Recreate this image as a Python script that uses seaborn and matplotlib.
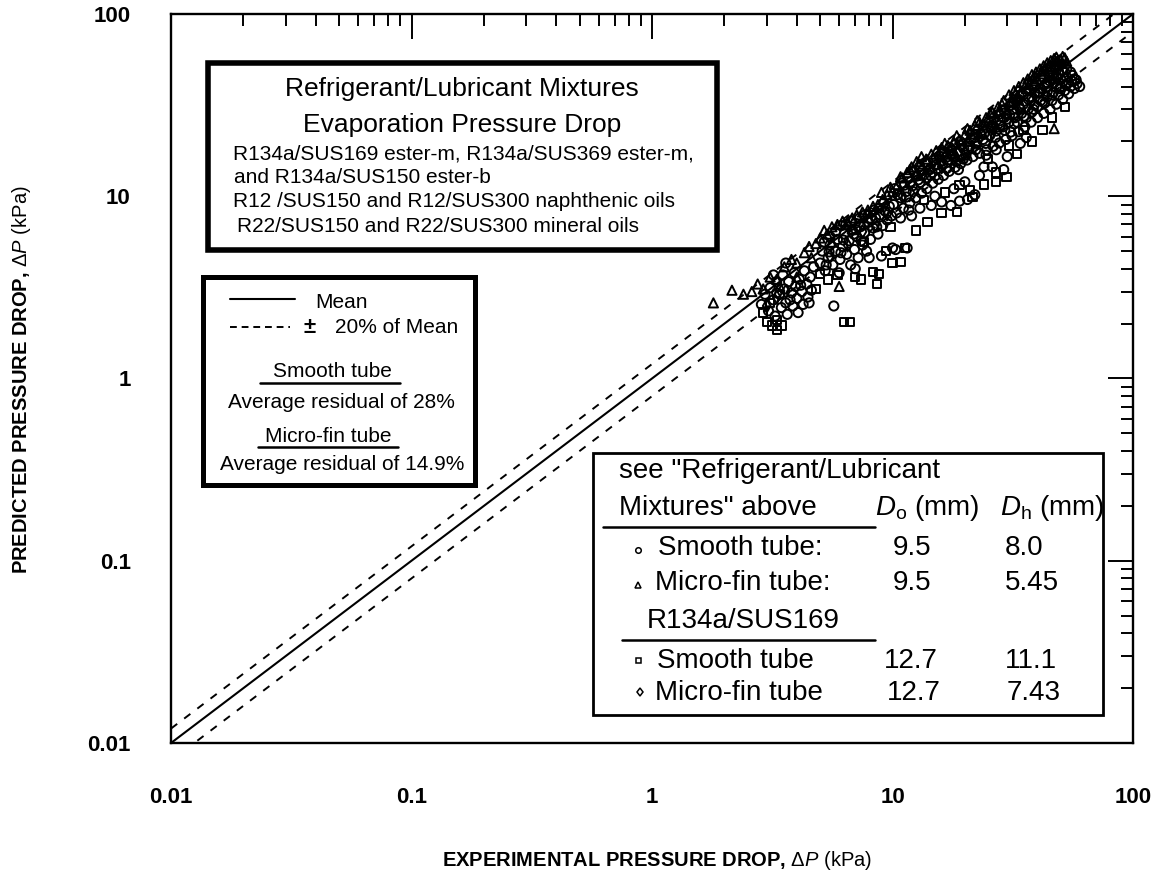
import numpy as np
import pandas as pd
import matplotlib
matplotlib.use("Agg")
import matplotlib.pyplot as plt
from matplotlib.patches import Rectangle
from matplotlib.lines import Line2D
from matplotlib.ticker import LogLocator, NullFormatter
import seaborn as sns

# ---------------------------------------------------------------------------
# Experimental vs. predicted evaporation pressure drop (kPa)
# ---------------------------------------------------------------------------
# Smooth tube, Do = 9.5 mm (circles)
smooth_95 = [
    (2.85, 2.55), (2.95, 2.9), (3.05, 2.35), (3.1, 3.15), (3.2, 2.7), (3.25, 2.2),
    (3.3, 3.4), (3.4, 2.9), (3.45, 2.45), (3.5, 3.7), (3.55, 3.1), (3.6, 2.6),
    (3.65, 2.25), (3.7, 3.4), (3.8, 2.95), (3.85, 2.5), (3.9, 3.8), (3.95, 3.2),
    (4.0, 2.75), (4.05, 2.3), (4.1, 3.5), (4.2, 3.0), (4.25, 2.55), (4.3, 3.9),
    (4.4, 3.3), (4.45, 2.8), (4.55, 3.6), (4.6, 3.05), (4.7, 4.1), (3.6, 4.3),
    (5.7, 2.5),
    (5.0, 4.3), (5.1, 5.0), (5.25, 3.9), (5.4, 4.6), (5.5, 5.4), (5.65, 4.2),
    (5.8, 5.0), (5.9, 5.8), (6.05, 4.5), (6.2, 5.3), (6.3, 6.2), (6.45, 4.8),
    (6.6, 5.7), (6.7, 4.2), (6.8, 6.5), (6.95, 5.1), (7.1, 6.0), (7.2, 4.6),
    (7.35, 6.8), (7.5, 5.4), (7.65, 6.3), (7.8, 5.0), (7.95, 7.2), (8.1, 5.8),
    (8.3, 6.7), (8.5, 7.6), (8.7, 6.2), (8.9, 7.9), (9.1, 6.9), (9.3, 8.3),
    (9.5, 7.4), (9.7, 8.8), (9.9, 7.8), (10.1, 9.0), (7.0, 4.0), (6.0, 3.8),
    (8.0, 4.6), (9.0, 4.7), (10.3, 5.1), (11.5, 5.2), (10.0, 5.2),
    (10.4, 8.1), (10.8, 9.8), (11.1, 8.6), (11.4, 10.6), (11.8, 9.2), (12.1, 11.4),
    (12.5, 9.8), (12.8, 12.3), (13.2, 10.4), (13.5, 13.1), (13.9, 11.0), (14.3, 14.0),
    (14.7, 11.8), (15.1, 14.8), (15.5, 12.4), (15.9, 15.6), (16.3, 13.0), (16.8, 16.4),
    (17.2, 13.7), (17.7, 17.0), (18.2, 14.4), (18.7, 17.6), (19.2, 15.1), (19.8, 18.2),
    (20.4, 15.8), (21.0, 18.8), (21.6, 16.5), (11.7, 8.4), (13.0, 8.6), (14.5, 8.9),
    (16.0, 9.3), (17.5, 8.9), (19.0, 9.4), (20.5, 9.6), (22.0, 10.2), (15.0, 10.0),
    (18.0, 11.0), (20.0, 12.0), (23.0, 13.0), (24.0, 14.5), (12.0, 7.8),
    (22.3, 19.5), (23.0, 17.2), (23.8, 20.5), (24.6, 18.0), (25.4, 21.6), (26.2, 18.8),
    (27.0, 22.8), (27.8, 19.6), (28.7, 24.0), (29.6, 20.5), (30.5, 25.5), (31.4, 21.5),
    (32.4, 27.0), (33.4, 22.6), (34.4, 28.5), (35.5, 24.0), (36.6, 30.0), (37.7, 25.5),
    (38.9, 31.8), (40.1, 27.0), (41.3, 33.5), (42.6, 28.5), (43.9, 35.0), (45.2, 30.0),
    (46.6, 37.0), (48.0, 32.0), (49.5, 39.0), (51.0, 34.0), (52.5, 41.0), (54.0, 36.5),
    (55.5, 43.0), (57.0, 39.0), (58.5, 41.5), (60.0, 40.0), (56.0, 46.0), (53.0, 45.0),
    (50.0, 44.0), (47.0, 42.0), (44.0, 40.0), (41.0, 37.0), (38.0, 35.0), (35.0, 32.0),
    (32.0, 30.0), (29.0, 27.0), (26.0, 24.5), (30.0, 16.5), (26.0, 14.5), (34.0, 19.5),
    (36.0, 21.0), (29.0, 14.0),
    (10.2, 11.0), (10.9, 11.8), (11.6, 12.8), (12.3, 13.6), (13.0, 14.6), (13.7, 15.3),
    (14.4, 13.0), (15.2, 16.2), (16.0, 17.0), (16.8, 14.2), (17.6, 18.0), (18.4, 15.5),
    (19.3, 19.0), (20.2, 16.8), (21.2, 20.5), (22.2, 18.0), (23.3, 22.0), (24.4, 19.5),
    (25.6, 24.0), (26.8, 21.0), (28.0, 26.0), (29.3, 23.0), (30.7, 28.0), (32.1, 25.0),
    (33.6, 31.0), (35.2, 27.5), (36.8, 34.0), (38.5, 30.0), (40.3, 37.0), (42.1, 33.0),
    (44.0, 42.0), (46.0, 36.0), (48.0, 45.0), (50.0, 40.0), (52.0, 48.0), (54.0, 42.0),
    (45.0, 46.0), (39.0, 40.0), (33.0, 33.5), (3.3, 2.95), (3.75, 2.7), (4.15, 3.25),
    (4.5, 2.6), (3.2, 3.7), (5.3, 4.2), (6.1, 4.9), (7.4, 5.7), (8.6, 6.8),
    (5.2, 5.6), (5.5, 6.0), (5.8, 6.4), (6.1, 6.9), (6.4, 7.0), (6.7, 7.3),
    (7.0, 7.1), (7.3, 7.6), (7.7, 7.9), (8.1, 8.1), (8.4, 8.4), (8.8, 8.6),
    (6.9, 6.2), (7.6, 7.0), (8.2, 7.4), (9.2, 9.2), (5.45, 4.95), (6.25, 5.75),
    (7.05, 6.55),
    (10.5, 10.2), (11.2, 11.5), (11.9, 12.0), (12.6, 12.9), (13.3, 13.8), (14.0, 15.0),
    (14.8, 15.8), (15.6, 16.6), (16.4, 17.6), (17.3, 18.5), (18.2, 19.2), (19.1, 20.0),
    (10.8, 7.6), (11.4, 9.9), (12.2, 10.6), (13.0, 11.9), (13.8, 12.6), (14.6, 13.5),
    (15.4, 14.2), (16.2, 15.1), (17.0, 15.8), (17.9, 16.6), (18.8, 14.0), (19.7, 16.0),
    (20.7, 18.0),
    (21.5, 22.0), (22.7, 23.2), (23.9, 24.5), (25.1, 25.5), (26.4, 27.0), (27.7, 28.2),
    (29.1, 29.5), (30.5, 31.0), (32.0, 32.5), (33.5, 34.0), (22.0, 21.0), (24.0, 22.0),
    (26.0, 23.5), (28.0, 24.5), (30.0, 26.5), (32.0, 28.5), (34.0, 30.0), (36.0, 27.0),
    (38.0, 29.0), (24.5, 16.8), (27.0, 18.0), (31.0, 22.5), (33.0, 25.5),
    (35.0, 36.0), (37.0, 38.0), (39.0, 37.0), (41.0, 39.0), (43.0, 41.0), (45.0, 43.0),
    (47.0, 44.0), (49.0, 47.0), (51.0, 49.0), (53.0, 50.0), (55.0, 48.0), (57.0, 44.0),
    (40.0, 31.0), (43.0, 32.5), (46.0, 33.5), (49.0, 36.0), (52.0, 38.0), (55.0, 40.0),
    (58.0, 43.5), (44.0, 37.5), (48.0, 39.5),
]

# Micro-fin tube, Do = 9.5 mm (triangles)
microfin_95 = [
    (1.8, 2.6), (2.15, 3.05), (2.6, 3.0), (2.75, 3.3), (2.9, 3.1), (3.1, 3.6),
    (3.3, 3.5), (3.55, 4.1), (3.8, 4.5), (4.0, 4.3), (4.3, 4.9), (4.5, 5.3),
    (4.8, 5.5), (5.0, 5.9), (5.2, 6.5), (5.35, 6.2), (5.6, 6.8), (5.9, 7.0),
    (6.2, 7.3), (6.5, 7.2), (6.8, 7.6), (7.1, 7.9), (7.5, 8.2), (7.9, 8.4),
    (8.3, 8.8), (8.7, 9.0), (9.1, 9.6), (9.5, 10.2), (10.0, 10.6), (10.5, 11.6),
    (11.0, 12.6), (11.5, 13.5), (12.0, 14.5), (12.6, 15.5), (13.2, 16.5), (13.8, 16.0),
    (14.5, 17.0), (15.2, 17.8), (16.0, 18.5), (17.0, 19.0), (18.0, 19.8), (19.0, 20.5),
    (20.0, 21.8), (21.0, 23.0), (22.0, 24.5), (23.0, 25.5), (24.5, 27.0), (26.0, 29.0),
    (27.5, 31.0), (29.0, 33.5), (30.5, 36.0), (32.0, 38.0), (33.5, 40.0), (35.0, 42.0),
    (36.5, 44.0), (38.0, 46.5), (39.5, 48.0), (41.0, 50.0), (42.5, 52.0), (44.0, 54.0),
    (45.5, 55.5), (47.0, 57.0), (48.5, 55.0), (50.0, 56.5), (52.0, 57.5), (43.0, 49.0),
    (46.0, 51.0), (49.0, 52.0), (40.0, 44.0), (37.0, 41.0), (34.0, 37.0), (31.0, 33.0),
    (28.0, 29.5), (25.0, 25.5), (18.5, 16.5), (22.5, 20.0), (27.0, 24.0), (47.0, 23.5),
    (6.0, 3.2), (4.0, 3.6),
    (31.5, 35.0), (33.0, 35.5), (36.0, 39.0), (39.0, 43.0), (41.5, 47.0), (44.5, 50.0),
    (47.5, 53.0), (50.5, 53.5), (53.0, 55.0), (20.5, 20.0), (23.5, 22.5), (12.5, 13.0),
    (14.0, 14.2), (15.5, 15.0), (17.5, 17.0), (8.0, 7.6), (6.8, 6.6), (5.6, 5.6),
    (4.6, 4.6),
    (9.0, 10.5), (9.8, 11.2), (10.8, 12.8), (11.8, 14.0), (13.0, 15.0), (16.5, 19.5),
    (18.5, 21.5), (20.5, 23.5), (22.5, 26.0), (25.5, 28.5), (28.5, 32.0), (32.5, 36.5),
    (36.0, 41.5), (39.0, 45.5), (42.0, 48.5), (45.0, 52.0), (48.0, 58.0), (51.0, 58.5),
    (3.4, 3.2), (2.4, 2.9),
]

# R134a/SUS169 smooth tube, Do = 12.7 mm (squares)
smooth_127 = [
    (2.9, 2.3), (3.0, 2.05), (3.15, 1.95), (3.3, 1.85), (3.45, 1.95), (3.1, 2.6),
    (3.3, 2.1), (4.8, 3.1), (5.0, 3.75), (5.4, 3.5), (5.9, 3.7), (6.3, 2.05),
    (6.65, 2.05), (7.0, 3.6), (7.4, 3.5), (8.3, 3.85), (8.8, 3.75), (8.6, 3.3),
    (10.0, 4.3), (10.8, 4.35), (11.3, 5.2), (9.4, 5.0), (12.5, 6.5), (14.0, 7.2),
    (16.0, 8.1), (18.5, 8.2), (21.5, 9.9), (21.0, 10.8), (24.0, 11.6), (27.0, 13.5),
    (29.8, 12.7), (27.0, 12.0), (33.0, 17.0), (38.0, 20.0), (42.0, 23.0), (46.0, 27.0),
    (52.0, 31.0), (19.0, 11.5), (16.5, 10.5), (13.5, 9.5), (25.0, 16.0), (30.5, 19.0),
    (35.0, 23.0), (9.8, 6.8), (7.6, 5.6),
]

# R134a/SUS169 micro-fin tube, Do = 12.7 mm (diamonds)
microfin_127 = [
    (3.0, 2.5), (3.3, 2.8), (3.6, 3.0), (5.5, 4.7), (6.5, 5.4), (7.5, 6.4),
    (8.5, 7.0), (9.5, 8.0), (11.0, 10.0), (12.5, 11.0), (14.0, 12.5), (16.0, 14.5),
    (18.0, 16.0), (20.0, 17.5), (23.0, 21.0), (26.0, 22.5), (30.0, 28.0), (34.0, 31.0),
    (38.0, 33.5), (42.0, 38.5), (46.0, 43.0), (50.0, 47.0),
]

# Reference lines: mean and +/-20 % of mean
line_x = np.array([0.01, 100.0])
band = 0.20

tick_values = [0.01, 0.1, 1, 10, 100]
tick_labels = ["0.01", "0.1", "1", "10", "100"]

# ---------------------------------------------------------------------------
sns.set_style("white")
plt.rcParams["font.family"] = ["Liberation Sans", "DejaVu Sans"]
plt.rcParams["text.color"] = "black"
plt.rcParams["axes.labelcolor"] = "black"
plt.rcParams["xtick.color"] = "black"
plt.rcParams["ytick.color"] = "black"
plt.rcParams["mathtext.fontset"] = "custom"
plt.rcParams["mathtext.rm"] = "Liberation Sans"
plt.rcParams["mathtext.it"] = "Liberation Sans:italic"
plt.rcParams["mathtext.bf"] = "Liberation Sans:bold"

W, H = 1160, 875
fig = plt.figure(figsize=(W / 100, H / 100), dpi=100)
fig.patch.set_facecolor("white")
ax = fig.add_axes([171 / W, 1 - 743 / H, (1133 - 171) / W, (743 - 14) / H])


def fx(px):
    return px / W


def fy(py):
    return 1 - py / H


# Reference lines
sns.lineplot(x=line_x, y=line_x, color="black", lw=1.5, ax=ax, zorder=2)
for f in (1 + band, 1 - band):
    sns.lineplot(x=line_x, y=line_x * f, color="black", lw=1.4,
                 linestyle=(0, (4, 4.5)), ax=ax, zorder=2)

# Data groups
groups = [
    (smooth_95, "o", 44),
    (microfin_95, "^", 44),
    (smooth_127, "s", 36),
    (microfin_127, "d", 44),
]
for pts, mk, size in groups:
    df = pd.DataFrame(pts, columns=["exp", "pred"])
    sns.scatterplot(data=df, x="exp", y="pred", marker=mk, s=size,
                    color="black", facecolor="none", edgecolor="black",
                    linewidth=1.4, legend=False, ax=ax, zorder=3)

ax.set_xscale("log")
ax.set_yscale("log")
ax.set_xlim(0.01, 100)
ax.set_ylim(0.01, 100)

for axis in (ax.xaxis, ax.yaxis):
    axis.set_minor_locator(LogLocator(base=10, subs=np.arange(2, 10), numticks=20))
    axis.set_minor_formatter(NullFormatter())
ax.set_xticks(tick_values, labels=tick_labels, fontweight="bold", fontsize=16)
ax.set_yticks(tick_values, labels=tick_labels, fontweight="bold", fontsize=16)

ax.tick_params(which="both", direction="in", top=True, right=True,
               color="black", width=1.4)
ax.tick_params(which="major", length=18)
ax.tick_params(which="minor", length=8.5)
ax.tick_params(axis="x", which="major", pad=32)
ax.tick_params(axis="y", which="major", pad=29)
for sp in ax.spines.values():
    sp.set_linewidth(1.7)
    sp.set_color("black")

ax.set_xlabel(r"EXPERIMENTAL PRESSURE DROP, $\Delta\mathit{P}\ \mathrm{(kPa)}$",
              fontweight="bold", fontsize=14.5)
ax.xaxis.set_label_coords(0.505, (743 - 860) / 729)
ax.xaxis.label.set_va("center")
ax.set_ylabel(r"PREDICTED PRESSURE DROP, $\Delta\mathit{P}\ \mathrm{(kPa)}$",
              fontweight="bold", fontsize=14.5)
ax.yaxis.set_label_coords((22 - 171) / 962, (743 - 380) / 729)
ax.yaxis.label.set_va("center")


# ---------------------------------------------------------------------------
# Annotation boxes
def box(x0, y0, x1, y1, lw):
    fig.add_artist(Rectangle((fx(x0), fy(y1)), fx(x1) - fx(x0), fy(y0) - fy(y1),
                             transform=fig.transFigure, facecolor="white",
                             edgecolor="black", lw=lw, zorder=5))


def txt(px, py, s, size, ha="left", **kw):
    fig.text(fx(px), fy(py), s, fontsize=size, ha=ha, va="baseline",
             color="black", zorder=6, **kw)


def hline(x0, x1, py, lw=1.8, **kw):
    fig.add_artist(Line2D([fx(x0), fx(x1)], [fy(py), fy(py)], color="black",
                          lw=lw, transform=fig.transFigure, zorder=6, **kw))


def glyph(px, py, mk, ms):
    fig.add_artist(Line2D([fx(px)], [fy(py)], marker=mk, ms=ms, mfc="none",
                          mec="black", mew=1.1, ls="none",
                          transform=fig.transFigure, zorder=6))


# Fluids box
box(208, 63, 717, 250, 4.0)
txt(462, 96, "Refrigerant/Lubricant Mixtures", 19, ha="center")
txt(462, 132, "Evaporation Pressure Drop", 19, ha="center")
txt(233, 160, "R134a/SUS169 ester-m, R134a/SUS369 ester-m,", 15)
txt(234, 183, "and R134a/SUS150 ester-b", 15)
txt(233, 207, "R12 /SUS150 and R12/SUS300 naphthenic oils", 15)
txt(237, 232, "R22/SUS150 and R22/SUS300 mineral oils", 15)

# Line key and residuals box
box(203, 277, 475, 485, 3.6)
hline(230, 295, 299, lw=1.5)
txt(315, 308, "Mean", 15)
hline(230, 290, 327, lw=1.4, ls=(0, (3.5, 2.5)))
txt(304, 333, "\u00b1", 16, fontweight="bold")
txt(335, 333, "20% of Mean", 15)
txt(332, 377, "Smooth tube", 15, ha="center")
hline(260, 400, 383)
txt(341, 408, "Average residual of 28%", 15, ha="center")
txt(328, 442, "Micro-fin tube", 15, ha="center")
hline(258, 398, 447)
txt(342, 470, "Average residual of 14.9%", 15, ha="center")

# Tube geometry table
box(593, 453, 1103, 715, 2.0)
txt(619, 478, "see \"Refrigerant/Lubricant", 20)
txt(619, 515, "Mixtures\" above", 20)
txt(875, 515, r"$\mathit{D}_\mathrm{o}$ (mm)", 20)
txt(1000, 515, r"$\mathit{D}_\mathrm{h}$ (mm)", 20)
hline(603, 875, 527)

glyph(638, 550, "o", 4.0)
txt(658, 555, "Smooth tube:", 20)
txt(912, 555, "9.5", 20, ha="center")
txt(1005, 555, "8.0", 20)

glyph(638, 585, "^", 4.0)
txt(655, 590, "Micro-fin tube:", 20)
txt(912, 590, "9.5", 20, ha="center")
txt(1005, 590, "5.45", 20)

txt(647, 628, "R134a/SUS169", 20)
hline(622, 875, 640)

glyph(638, 660, "s", 3.6)
txt(657, 668, "Smooth tube", 20)
txt(911, 668, "12.7", 20, ha="center")
txt(1005, 668, "11.1", 20)

glyph(640, 692, "d", 4.5)
txt(655, 700, "Micro-fin tube", 20)
txt(914, 700, "12.7", 20, ha="center")
txt(1007, 700, "7.43", 20)

fig.savefig("out.png", dpi=100, facecolor="white")
